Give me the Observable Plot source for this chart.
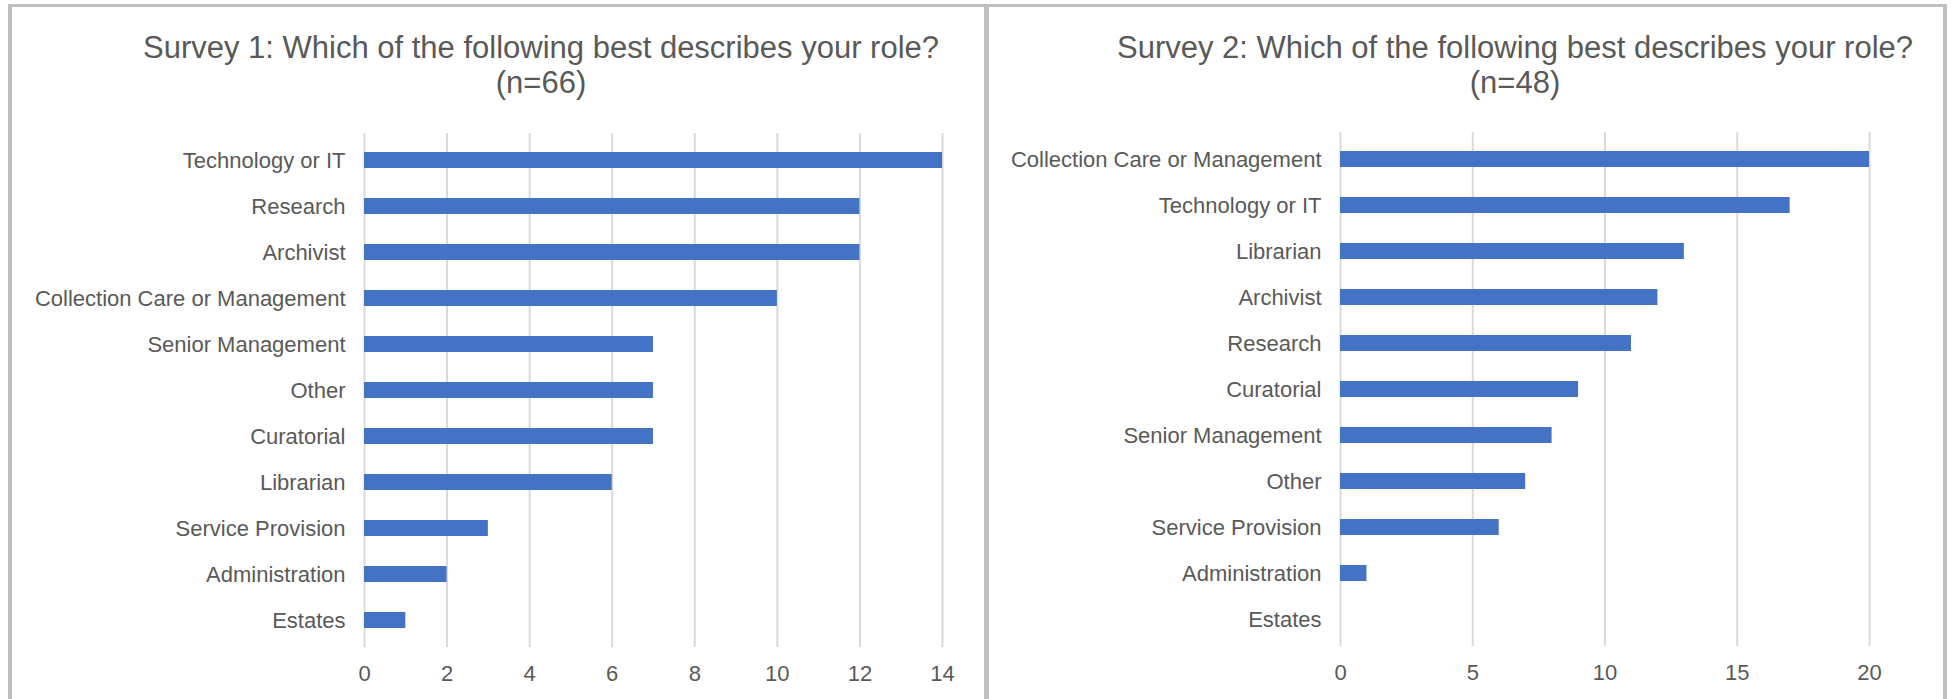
<!DOCTYPE html>
<html>
<head>
<meta charset="utf-8">
<script src="https://cdn.jsdelivr.net/npm/d3@7"></script>
<script src="https://cdn.jsdelivr.net/npm/@observablehq/plot@0.6"></script>
<style>
  html, body { margin: 0; padding: 0; background: #fff; }
  #root { position: relative; width: 1952px; height: 699px; overflow: hidden; background: #fff;
          font-family: "Liberation Sans", Arial, sans-serif; color: #595959; }
  .border { position: absolute; background: #bfbfbf; }
  .title { position: absolute; width: 800px; text-align: center; font-size: 31px; line-height: 35px; color: #595959; }
  .chart { position: absolute; }
</style>
</head>
<body>
<div id="root">
  <div class="border" style="left:8px; top:4px; width:1939px; height:3px;"></div>
  <div class="border" style="left:8px; top:4px; width:4px; height:695px;"></div>
  <div class="border" style="left:984px; top:4px; width:5px; height:695px;"></div>
  <div class="border" style="left:1943px; top:4px; width:4px; height:695px;"></div>
  <div class="title" id="title1" style="left:141px; top:30px;"></div>
  <div class="title" id="title2" style="left:1115px; top:30px;"></div>
  <div class="chart" id="chart1" style="left:12px; top:100px;"></div>
  <div class="chart" id="chart2" style="left:989px; top:100px;"></div>
</div>
<script>
// Survey 1
const title1 = ["Survey 1: Which of the following best describes your role?", "(n=66)"];
const roles1 = ["Technology or IT", "Research", "Archivist", "Collection Care or Management",
  "Senior Management", "Other", "Curatorial", "Librarian", "Service Provision", "Administration", "Estates"];
const counts1 = [14, 12, 12, 10, 7, 7, 7, 6, 3, 2, 1];
const ticks1 = [0, 2, 4, 6, 8, 10, 12, 14];

// Survey 2
const title2 = ["Survey 2: Which of the following best describes your role?", "(n=48)"];
const roles2 = ["Collection Care or Management", "Technology or IT", "Librarian", "Archivist", "Research",
  "Curatorial", "Senior Management", "Other", "Service Provision", "Administration", "Estates"];
const counts2 = [20, 17, 13, 12, 11, 9, 8, 7, 6, 1, 0];
const ticks2 = [0, 5, 10, 15, 20];

function chart(roles, counts, ticks, opts) {
  const data = roles.map((r, i) => ({role: r, count: counts[i]}));
  return Plot.plot({
    width: opts.width, height: opts.height,
    marginLeft: opts.marginLeft, marginRight: opts.marginRight,
    marginTop: opts.marginTop, marginBottom: opts.marginBottom,
    style: {fontFamily: '"Liberation Sans", Arial, sans-serif', fontSize: "22px", color: "#595959", background: "transparent"},
    x: {domain: [ticks[0], ticks[ticks.length - 1]], label: null},
    y: {domain: roles, paddingInner: 0.657, paddingOuter: 0.3285, label: null},
    marks: [
      Plot.gridX(ticks, {stroke: "#d9d9d9", strokeOpacity: 1, strokeWidth: 2}),
      Plot.barX(data, {x: "count", y: "role", fill: "#4472c4"}),
      Plot.axisX(ticks, {tickSize: 0, tickPadding: 18, fontSize: 22, label: null}),
      Plot.axisY({tickSize: 0, tickPadding: 19, fontSize: 22, label: null})
    ]
  });
}

document.getElementById("title1").innerHTML = title1.join("<br>");
document.getElementById("title2").innerHTML = title2.join("<br>");

document.getElementById("chart1").appendChild(chart(roles1, counts1, ticks1,
  {width: 972, height: 599, marginLeft: 352, marginRight: 42, marginTop: 33, marginBottom: 52}));
document.getElementById("chart2").appendChild(chart(roles2, counts2, ticks2,
  {width: 954, height: 599, marginLeft: 351, marginRight: 74, marginTop: 32, marginBottom: 53}));
</script>
</body>
</html>
